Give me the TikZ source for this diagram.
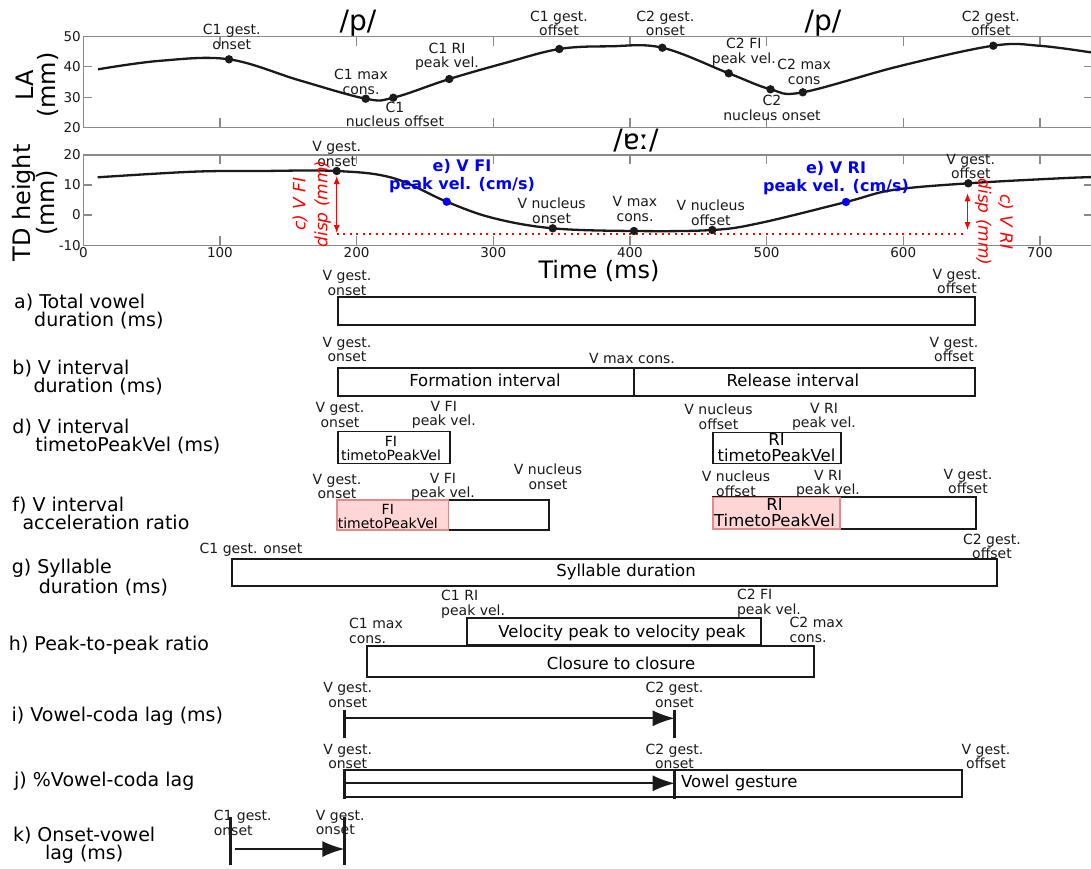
\documentclass[tikz,border=0pt]{standalone}
\usepackage{fontspec}
\setmainfont{DejaVu Sans}
\usetikzlibrary{arrows.meta}
\definecolor{axgray}{HTML}{8A8A8A}
\definecolor{ink}{HTML}{1A1A1A}
\definecolor{vblue}{HTML}{0000FF}
\definecolor{vred}{HTML}{FF0000}
\definecolor{pinkfill}{HTML}{FFD6D6}
\definecolor{pinkedge}{HTML}{E08C8C}

\tikzset{
  evt/.style={font=\fontsize{14}{14.5}\selectfont,align=center,inner sep=0pt,text=ink},
  ticklab/.style={font=\fontsize{13.5}{14}\selectfont,inner sep=0pt,text=ink},
  axtitle/.style={font=\fontsize{24}{22}\selectfont,align=center,inner sep=0pt,rotate=90},
  phon/.style={font=\fontsize{28}{28}\selectfont,inner sep=0pt},
  rowlab/.style={font=\fontsize{19}{18}\selectfont,align=left,anchor=west,inner sep=0pt},
  bartxt/.style={font=\fontsize{16.5}{16}\selectfont,align=center,inner sep=0pt},
  smalltxt/.style={font=\fontsize{14}{14}\selectfont,align=center,inner sep=0pt},
  barbox/.style={draw=ink,line width=1.8pt},
  pinkbox/.style={fill=pinkfill,draw=pinkedge,line width=1.6pt},
  axframe/.style={draw=axgray,line width=1.4pt},
  curve/.style={line width=2.3pt,ink},
  lagbar/.style={line width=3pt,ink},
  lagarrow/.style={line width=1.8pt,ink,-{Latex[length=22pt,width=16pt]}},
  disparrow/.style={vred,line width=0.9pt,{Latex[length=8pt,width=6pt]}-{Latex[length=8pt,width=6pt]}},
  bluelab/.style={font=\bfseries\fontsize{16}{18.5}\selectfont,text=vblue,align=center,inner sep=0pt},
  redlab/.style={font=\itshape\fontsize{17}{22}\selectfont,text=vred,align=center,inner sep=0pt},
}

\begin{document}
\begin{tikzpicture}[x=1pt,y=-1pt]
  \useasboundingbox (0,0) rectangle (1091,868);
  \fill[white] (0,0) rectangle (1091,868);

  % LA panel
  \draw[axframe] (83.3,36.7) rectangle (1093,127.3);
  \foreach \t in {1,...,7}{\draw[axframe] (83.3+136.65*\t,36.7)--++(0,9) (83.3+136.65*\t,127.3)--++(0,-9);}
  \foreach \y in {66.7,97.3}{\draw[axframe] (83.3,\y)--++(9,0) (1093,\y)--++(-9,0);}
  \node[ticklab,anchor=east] (la50) at (81,36.7) {50};
  \node[ticklab,anchor=east] (la40) at (81,66.7) {40};
  \node[ticklab,anchor=east] (la30) at (81,97.3) {30};
  \node[ticklab,anchor=east] (la20) at (81,127.3) {20};
  \node[axtitle] (latitle) at (37.5,85) {LA\\(mm)};

  \coordinate (c1on) at (229,59.3);   \coordinate (c1max) at (365.7,98.7);
  \coordinate (c1nuc) at (393.3,97.7); \coordinate (c1ri) at (449.3,79);
  \coordinate (c1off) at (559.3,49);  \coordinate (c2on) at (662.3,47.7);
  \coordinate (c2fi) at (728.7,73.3); \coordinate (c2nuc) at (770.5,89.3);
  \coordinate (c2max) at (802.8,92.3); \coordinate (c2off) at (993.3,45.7);
  \draw[curve] plot[smooth,tension=0.6] coordinates{(98,69.3)(160,60.8)(c1on)(300,80.5)(c1max)(c1nuc)(c1ri)(505,63)(c1off)(610,46.3)(c2on)(c2fi)(c2nuc)(c2max)(900,66)(c2off)(1040,45.8)(1095,53)};
  \foreach \p in {c1on,c1max,c1nuc,c1ri,c1off,c2on,c2fi,c2nuc,c2max,c2off}{\fill[ink] (\p) circle (4.2pt);}

  \node[phon] (p1) at (358,23.3) {/p/};
  \node[phon] (p2) at (822.9,23.3) {/p/};
  \node[evt] (lc1on) at (231.7,36.7) {C1 gest.\\onset};
  \node[evt] (lc1max) at (361,82) {C1 max\\cons.};
  \node[evt] (lc1nuc) at (395,114.5) {C1\\nucleus offset};
  \node[evt] (lc1ri) at (447,57) {C1 RI\\peak vel.};
  \node[evt] (lc1off) at (559,23.3) {C1 gest.\\offset};
  \node[evt] (lc2on) at (665.4,23.3) {C2 gest.\\onset};
  \node[evt] (lc2fi) at (743.8,52.5) {C2 FI\\peak vel.};
  \node[evt] (lc2max) at (804.2,72) {C2 max\\cons};
  \node[evt] (lc2nuc) at (772,108) {C2\\nucleus onset};
  \node[evt] (lc2off) at (990.8,23.3) {C2 gest.\\offset};

  % TD panel
  \draw[axframe] (83.3,155) rectangle (1093,245.3);
  \foreach \t in {1,...,7}{\draw[axframe] (83.3+136.65*\t,155)--++(0,9) (83.3+136.65*\t,245.3)--++(0,-9);}
  \foreach \y in {185,215}{\draw[axframe] (83.3,\y)--++(9,0) (1093,\y)--++(-9,0);}
  \node[ticklab,anchor=east] (td20) at (81,155) {20};
  \node[ticklab,anchor=east] (td10) at (81,185) {10};
  \node[ticklab,anchor=east] (td0) at (81,215) {0};
  \node[ticklab,anchor=east] (tdm10) at (81,245.3) {-10};
  \foreach \t in {0,...,7}{\node[ticklab] (tx\t) at (83.3+136.65*\t,252.5) {\the\numexpr\t*100\relax};}
  \node[axtitle] (tdtitle) at (35,203) {TD height\\(mm)};
  \node[font=\fontsize{24}{24}\selectfont,inner sep=0pt] (timetitle) at (599,270.5) {Time (ms)};
  \node[phon] (vowel) at (636,141) {/ɐː/};

  \coordinate (von) at (336.7,171);   \coordinate (vfi) at (446.7,201.7);
  \coordinate (vnon) at (552.7,228.3); \coordinate (vmax) at (634,231);
  \coordinate (vnoff) at (712.3,230); \coordinate (vri) at (846,202);
  \coordinate (voff) at (968.3,183.3);
  \draw[curve] plot[smooth,tension=0.6] coordinates{(97.7,177.3)(193,171.7)(260,171)(von)(393,178)(vfi)(493,218)(vnon)(vmax)(vnoff)(760,223)(vri)(893,190)(voff)(1060,178.3)(1095,177)};
  \coordinate (base1) at (336.7,234.3); \coordinate (base2) at (965,234.3);
  \draw[vred,line width=2pt,dash pattern=on 2pt off 4.5pt] (base1)--(base2);
  \coordinate (fitop) at (336.7,176); \coordinate (fibot) at (336.7,233);
  \coordinate (ritop) at (967.5,193.3); \coordinate (ribot) at (967.5,230);
  \draw[disparrow] (fitop)--(fibot);
  \draw[disparrow] (ritop)--(ribot);
  \foreach \p in {von,vnon,vmax,vnoff,voff}{\fill[ink] (\p) circle (4.2pt);}
  \foreach \p in {vfi,vri}{\fill[vblue] (\p) circle (4.2pt);}

  \node[evt] (lvon) at (336.7,154) {V gest.\\onset};
  \node[evt] (lvnon) at (551.6,211) {V nucleus\\onset};
  \node[evt] (lvmax) at (635,209) {V max\\cons.};
  \node[evt] (lvnoff) at (710.8,213) {V nucleus\\offset};
  \node[evt] (lvoff) at (970.8,166.7) {V gest.\\offset};
  \node[bluelab] (efi) at (462,176) {e) V FI\\peak vel. (cm/s)};
  \node[bluelab] (eri) at (836,178) {e) V RI\\peak vel. (cm/s)};
  \node[redlab,rotate=90] (cfi) at (311.7,204) {c) V FI\\disp (mm)};
  \node[redlab,rotate=-90] (cri) at (994,222) {c) V RI\\disp (mm)};

  % measures
  \node[rowlab] (rowa) at (14,311.5) {a) Total vowel\\\hspace*{20pt}duration (ms)};
  \node[rowlab] (rowb) at (12.3,378) {b) V interval\\\hspace*{21pt}duration (ms)};
  \node[rowlab] (rowd) at (12.3,437) {d) V interval\\\hspace*{23pt}timetoPeakVel (ms)};
  \node[rowlab] (rowf) at (12.3,513.3) {f) V interval\\\hspace*{10pt}acceleration ratio};
  \node[rowlab] (rowg) at (11.6,577.5) {g) Syllable\\\hspace*{27pt}duration (ms)};
  \node[rowlab] (rowh) at (8.8,645) {h) Peak-to-peak ratio};
  \node[rowlab] (rowi) at (11.5,716.7) {i) Vowel-coda lag (ms)};
  \node[rowlab] (rowj) at (14,781.7) {j) \%Vowel-coda lag};
  \node[rowlab] (rowk) at (12.8,845.5) {k) Onset-vowel\\\hspace*{32pt}lag (ms)};

  % a)
  \draw[barbox] (337.9,297.3) rectangle (974.6,325);
  \node[evt] (aon) at (347,283) {V gest.\\onset};
  \node[evt] (aoff) at (957,281.7) {V gest.\\offset};
  % b)
  \draw[barbox] (337.9,367.7) rectangle (974.6,395.7) (633.8,367.7)--(633.8,395.7);
  \node[bartxt] (form) at (485,380.5) {Formation interval};
  \node[bartxt] (rel) at (793,380.5) {Release interval};
  \node[evt] (bon) at (347,349.3) {V gest.\\onset};
  \node[evt] (bmax) at (632,358.3) {V max cons.};
  \node[evt] (boff) at (954,349.7) {V gest.\\offset};
  % d)
  \draw[barbox,line width=1.5pt] (338,431.7) rectangle (450,463.3);
  \draw[barbox,line width=1.5pt] (713.2,432.3) rectangle (841.1,463.3);
  \node[smalltxt] (dfi) at (391,448) {FI\\timetoPeakVel};
  \node[bartxt] (dri) at (776.5,448) {RI\\timetoPeakVel};
  \node[evt] (don) at (340,415) {V gest.\\onset};
  \node[evt] (dfipk) at (443.8,415) {V FI\\peak vel.};
  \node[evt] (dnoff) at (718.5,417) {V nucleus\\offset};
  \node[evt] (dripk) at (824,417) {V RI\\peak vel.};
  % f)
  \draw[barbox] (336.8,500) rectangle (549,530);
  \draw[pinkbox] (336.8,500) rectangle (448.4,530);
  \draw[barbox] (713.2,497.3) rectangle (975.7,529);
  \draw[pinkbox] (713.2,497.3) rectangle (839.7,529);
  \node[smalltxt] (ffi) at (387.8,516) {FI\\timetoPeakVel};
  \node[bartxt] (fri) at (774.5,512.5) {RI\\TimetoPeakVel};
  \node[evt] (fon) at (337,486.7) {V gest.\\onset};
  \node[evt] (ffipk) at (443,486.7) {V FI\\peak vel.};
  \node[evt] (fnon) at (548,476.7) {V nucleus\\onset};
  \node[evt] (fnoff) at (736,484) {V nucleus\\offset};
  \node[evt] (fripk) at (828,484) {V RI\\peak vel.};
  \node[evt] (foff) at (968,481.7) {V gest.\\offset};
  % g)
  \draw[barbox] (232.3,559.3) rectangle (996.8,585.7);
  \node[bartxt] (syl) at (626,572) {Syllable duration};
  \node[evt] (gon) at (251,550) {C1 gest. onset};
  \node[evt] (goff) at (992,546.3) {C2 gest.\\offset};
  % h)
  \draw[barbox] (466.7,618.3) rectangle (760.7,645);
  \draw[barbox] (366.7,646) rectangle (814,676.7);
  \node[bartxt] (velvel) at (622,633) {Velocity peak to velocity peak};
  \node[bartxt] (clocl) at (621,663) {Closure to closure};
  \node[evt,align=left,anchor=west] (hc1max) at (349,630.8) {C1 max\\cons.};
  \node[evt,align=left,anchor=west] (hc1ri) at (441,604.2) {C1 RI\\peak vel.};
  \node[evt,align=left,anchor=west] (hc2fi) at (736.8,603) {C2 FI\\peak vel.};
  \node[evt,align=left,anchor=west] (hc2max) at (789.5,630) {C2 max\\cons.};
  % i)
  \coordinate (ion) at (344.4,718.3); \coordinate (ic2) at (674.7,718.3);
  \draw[lagbar] (344.4,710)--(344.4,738.3) (674.7,710)--(674.7,738.3);
  \draw[lagarrow] (ion)--(ic2);
  \node[evt] (ilon) at (347.7,695) {V gest.\\onset};
  \node[evt] (ilc2) at (674.5,695) {C2 gest.\\onset};
  % j)
  \draw[barbox] (344.4,770) rectangle (961.7,796.7);
  \draw[lagbar] (344.4,768.5)--(344.4,798.5) (674.7,769)--(674.7,798.5);
  \coordinate (jon) at (344.4,783.3); \coordinate (jc2) at (674.7,783.3);
  \draw[lagarrow] (jon)--(jc2);
  \node[bartxt,anchor=west] (vgest) at (681,782.7) {Vowel gesture};
  \node[evt] (jlon) at (347.7,756.3) {V gest.\\onset};
  \node[evt] (jlc2) at (674.5,756.3) {C2 gest.\\onset};
  \node[evt] (jloff) at (986,756.3) {V gest.\\offset};
  % k)
  \draw[lagbar] (230.9,816.7)--(230.9,865) (344.4,816.7)--(344.4,865);
  \coordinate (kc1) at (234.5,849); \coordinate (kon) at (344.4,849);
  \draw[lagarrow] (kc1)--(kon);
  \node[evt,align=left,anchor=west] (klc1) at (213.6,822.7) {C1 gest.\\onset};
  \node[evt,align=left,anchor=west] (klon) at (315.7,822.7) {V gest.\\onset};
\end{tikzpicture}
\end{document}
